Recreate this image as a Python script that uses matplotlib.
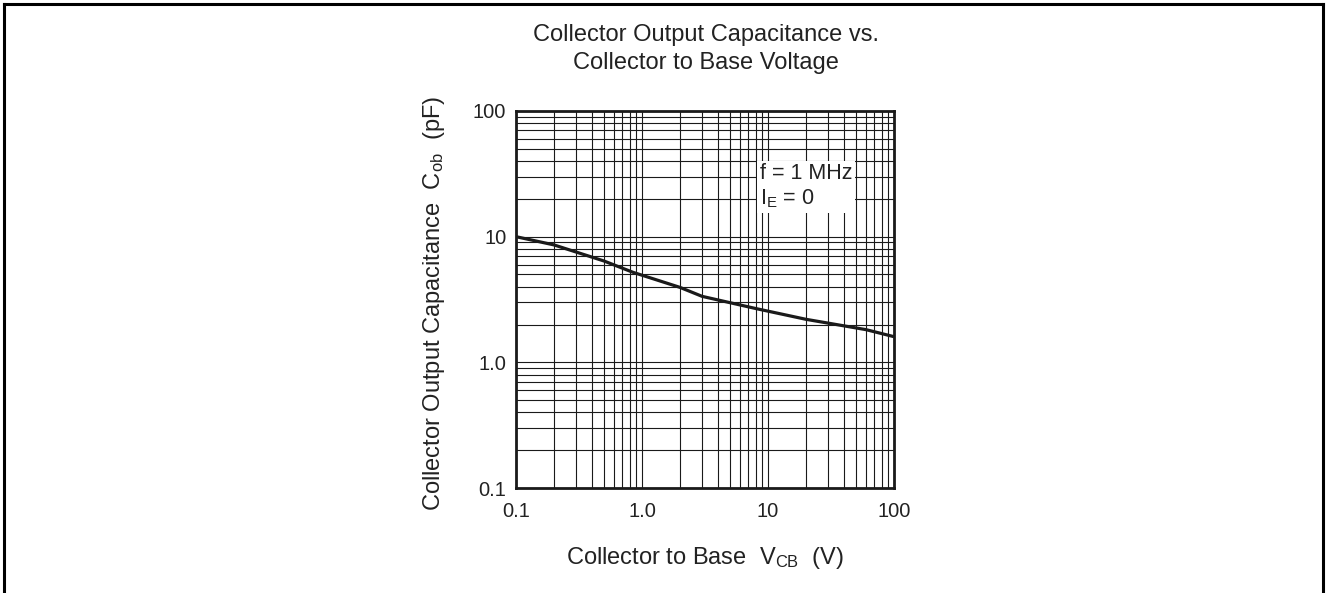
#!/usr/bin/env python
# Collector output capacitance vs collector-to-base voltage (datasheet style log-log plot)

import matplotlib
matplotlib.use("Agg")
import matplotlib.pyplot as plt
from matplotlib.lines import Line2D
from matplotlib.ticker import LogLocator, FixedLocator, FixedFormatter, NullFormatter

plt.rcParams['font.family'] = ['Liberation Sans', 'DejaVu Sans']
plt.rcParams['mathtext.default'] = 'regular'

# curve
v_cb = [0.1, 0.2, 0.5, 0.85, 2.0, 3.0, 8.0, 20, 60, 100]
c_ob = [10.0, 8.6, 6.4, 5.2, 3.95, 3.35, 2.68, 2.2, 1.82, 1.6]

tick_vals = [0.1, 1.0, 10, 100]
tick_labels = ["0.1", "1.0", "10", "100"]

W, H = 1326, 593
fig = plt.figure(figsize=(W / 100, H / 100), dpi=100)

# axes box in pixels: left 516, top 111, right 894, bottom 488
ax = fig.add_axes([516 / W, 1 - 488 / H, (894 - 516) / W, (488 - 111) / H])
ax.set_xscale('log')
ax.set_yscale('log')
ax.set_xlim(0.1, 100)
ax.set_ylim(0.1, 100)

ax.plot(v_cb, c_ob, color='#1a1a1a', lw=2.3, zorder=3, solid_capstyle='butt')

for axis in (ax.xaxis, ax.yaxis):
    axis.set_major_locator(FixedLocator(tick_vals))
    axis.set_major_formatter(FixedFormatter(tick_labels))
    axis.set_minor_locator(LogLocator(base=10, subs=range(2, 10)))
    axis.set_minor_formatter(NullFormatter())

ax.grid(True, which='both', color='#1a1a1a', lw=0.8)
ax.tick_params(which='both', length=0, labelsize=14.5, colors='#222222')
ax.tick_params(axis='x', pad=10)
ax.tick_params(axis='y', pad=7)
for s in ax.spines.values():
    s.set_linewidth(2.0)
    s.set_color('#1a1a1a')

ax.text(0.645, 0.862, "f = 1 MHz\nI$_{E}$ = 0", transform=ax.transAxes,
        fontsize=15.5, color='#222222', va='top', ha='left', linespacing=1.2,
        bbox=dict(facecolor='white', edgecolor='none', pad=2), zorder=4)

fig.text(706 / W, 1 - 49 / H, "Collector Output Capacitance vs.\nCollector to Base Voltage",
         fontsize=17, color='#222222', ha='center', va='center', linespacing=1.3)

ax.set_xlabel("Collector to Base  V$_{CB}$  (V)", fontsize=17, color='#222222', va='center')
ax.xaxis.set_label_coords(0.5, (488 - 558) / 377)
ax.set_ylabel("Collector Output Capacitance  C$_{ob}$  (pF)", fontsize=17, color='#222222', va='center')
ax.yaxis.set_label_coords((434 - 516) / 378, 0.49)

# page frame (left, top, right)
x0, x1, yt = 4 / W, 1 - 3 / W, 1 - 4 / H
for xs, ys in [([x0, x0], [0, yt]), ([x0, x1], [yt, yt]), ([x1, x1], [yt, 0])]:
    fig.add_artist(Line2D(xs, ys, color='black', lw=2.2, transform=fig.transFigure))

fig.savefig("out.png", dpi=100)
